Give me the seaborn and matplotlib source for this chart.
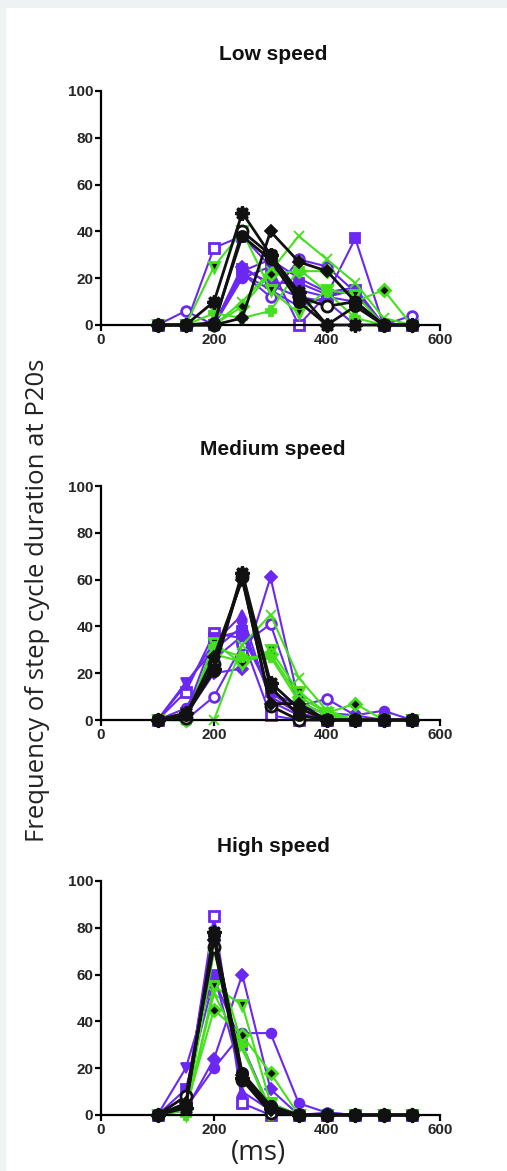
import numpy as np
import pandas as pd
import matplotlib
matplotlib.use("Agg")
import matplotlib.pyplot as plt
import seaborn as sns
from matplotlib.patches import Rectangle

sns.set_theme(style="ticks")
plt.rcParams['font.family'] = ['Liberation Sans', 'DejaVu Sans']

# ---------------- data ----------------
durations = [100, 150, 200, 250, 300, 350, 400, 450, 500, 550]
panel_titles = ["Low speed", "Medium speed", "High speed"]
x_ticks = [0, 200, 400, 600]
y_ticks = [0, 20, 40, 60, 80, 100]

series_names = ["P_open_sq", "P_sq", "P_open_circ", "P_circ", "P_tri_up", "P_tri_dn", "P_diam",
                "G_tri_dn", "G_x", "G_diam", "G_plus",
                "B_open_circ", "B_diam", "B_circ", "B_star"]
series_group = ["purple"] * 7 + ["green"] * 4 + ["black"] * 4

low_speed = {
    "P_open_sq":   [0, 0, 33, 38, 25, 0, 13, 15, 0, 0],
    "P_sq":        [0, 0, 0, 24, 18, 18, 13, 37, 0, 0],
    "P_open_circ": [0, 6, 0, 22, 12, 28, 25, 14, 0, 4],
    "P_circ":      [0, 0, 0, 20, 25, 15, 12, 15, 0, 0],
    "P_tri_up":    [0, 0, 0, 23, 28, 20, 14, 16, 0, 0],
    "P_tri_dn":    [0, 0, 0, 22, 15, 8, 12, 10, 0, 0],
    "P_diam":      [0, 0, 0, 25, 17, 12, 10, 0, 0, 0],
    "G_tri_dn":    [0, 0, 25, 40, 15, 5, 15, 13, 0, 0],
    "G_x":         [0, 0, 0, 10, 23, 38, 28, 18, 3, 0],
    "G_diam":      [0, 0, 0, 8, 22, 23, 23, 10, 15, 0],
    "G_plus":      [0, 0, 5, 3, 6, 24, 14, 3, 0, 0],
    "B_star":      [0, 0, 10, 48, 30, 14, 0, 0, 0, 0],
    "B_diam":      [0, 0, 0, 3, 40, 27, 23, 10, 0, 0],
    "B_open_circ": [0, 0, 0, 40, 30, 12, 8, 10, 0, 0],
    "B_circ":      [0, 0, 1, 38, 28, 10, 0, 8, 0, 0],
}
medium_speed = {
    "P_open_sq":   [0, 12, 37, 35, 2, 0, 0, 0, 0, 0],
    "P_sq":        [0, 3, 35, 38, 12, 3, 0, 0, 0, 0],
    "P_open_circ": [0, 0, 10, 32, 41, 6, 9, 2, 0, 0],
    "P_circ":      [0, 5, 26, 36, 12, 6, 3, 2, 4, 0],
    "P_tri_up":    [0, 15, 33, 45, 8, 2, 0, 0, 0, 0],
    "P_tri_dn":    [0, 16, 30, 40, 10, 3, 0, 0, 0, 0],
    "P_diam":      [0, 2, 20, 22, 61, 8, 2, 0, 0, 0],
    "G_tri_dn":    [0, 0, 33, 24, 30, 12, 3, 0, 0, 0],
    "G_x":         [0, 0, 0, 32, 45, 18, 4, 0, 0, 0],
    "G_diam":      [0, 0, 28, 25, 28, 10, 3, 7, 0, 0],
    "G_plus":      [0, 0, 31, 27, 27, 8, 2, 0, 0, 0],
    "B_star":      [0, 3, 22, 63, 16, 5, 0, 0, 0, 0],
    "B_diam":      [0, 2, 27, 60, 7, 7, 0, 0, 0, 0],
    "B_open_circ": [0, 1, 24, 61, 6, 0, 0, 0, 0, 0],
    "B_circ":      [0, 2, 21, 62, 14, 2, 0, 0, 0, 0],
}
high_speed = {
    "P_open_sq":   [0, 5, 85, 5, 0, 0, 0, 0, 0, 0],
    "P_sq":        [0, 11, 58, 30, 2, 0, 0, 0, 0, 0],
    "P_open_circ": [0, 3, 75, 18, 3, 0, 1, 0, 0, 0],
    "P_circ":      [0, 3, 20, 35, 35, 5, 1, 0, 0, 0],
    "P_tri_up":    [0, 8, 80, 10, 2, 0, 0, 0, 0, 0],
    "P_tri_dn":    [0, 20, 60, 15, 5, 0, 0, 0, 0, 0],
    "P_diam":      [0, 2, 24, 60, 11, 0, 0, 0, 0, 0],
    "G_tri_dn":    [0, 0, 55, 47, 5, 0, 0, 0, 0, 0],
    "G_x":         [0, 2, 52, 28, 3, 0, 0, 0, 0, 0],
    "G_diam":      [0, 3, 45, 34, 18, 0, 0, 0, 0, 0],
    "G_plus":      [0, 0, 70, 30, 0, 0, 0, 0, 0, 0],
    "B_star":      [0, 3, 78, 16, 3, 0, 0, 0, 0, 0],
    "B_diam":      [0, 5, 75, 17, 2, 0, 0, 0, 0, 0],
    "B_open_circ": [0, 8, 72, 15, 1, 0, 0, 0, 0, 0],
    "B_circ":      [0, 4, 77, 18, 4, 0, 0, 0, 0, 0],
}
panels = [low_speed, medium_speed, high_speed]

# ---------------- styles ----------------
PURPLE = "#6a28f2"
GREEN = "#44e01c"
BLACK = "#111111"
group_color = {"purple": PURPLE, "green": GREEN, "black": BLACK}
STAR8 = (8, 1, 0)
marker_style = {
    "P_open_sq":   ("s", "white"),
    "P_sq":        ("s", None),
    "P_open_circ": ("o", "white"),
    "P_circ":      ("o", None),
    "P_tri_up":    ("^", None),
    "P_tri_dn":    ("v", None),
    "P_diam":      ("D", None),
    "G_tri_dn":    ("v", BLACK),
    "G_x":         ("x", None),
    "G_diam":      ("D", BLACK),
    "G_plus":      ("P", None),
    "B_star":      (STAR8, None),
    "B_diam":      ("D", None),
    "B_open_circ": ("o", "white"),
    "B_circ":      ("o", None),
}

W, H = 507, 1171
fig = plt.figure(figsize=(W / 100, H / 100), dpi=100, facecolor="#edf2f2")
bg = Rectangle((6 / W, 0), 1 - 6 / W, 1 - 8 / H, transform=fig.transFigure,
               facecolor="white", edgecolor="none", zorder=-10)
fig.patches.append(bg)

ax_left = 101 / W
ax_w = 339 / W
ax_h = 234 / H
bottoms_px = [325, 720, 1115]
title_y_px = [55, 449, 846]

for i, data in enumerate(panels):
    ax = fig.add_axes([ax_left, 1 - bottoms_px[i] / H, ax_w, ax_h])
    ax.set_zorder(5)
    ax.set_facecolor("none")
    for name, grp in zip(series_names, series_group):
        c = group_color[grp]
        mk, fc = marker_style[name]
        df = pd.DataFrame({"x": durations, "y": data[name]})
        lw = 2.0 if grp == "black" else 1.5
        mew = 2.0 if fc else 1.3
        if mk == STAR8:
            ms, mew = 10, 2.2
        elif mk in ("x", "P"):
            ms = 7.5
        elif mk == "D":
            ms = 6.5
        elif grp == "black":
            ms = 8
        else:
            ms = 7
        sns.lineplot(data=df, x="x", y="y", ax=ax, color=c, lw=lw, marker=mk,
                     markersize=ms, markerfacecolor=fc if fc else c,
                     markeredgecolor=c, markeredgewidth=mew,
                     estimator=None, sort=False, clip_on=False, legend=False,
                     zorder=3 if grp == "black" else 2)
    ax.set_xlim(0, 600)
    ax.set_ylim(0, 100)
    ax.set_xticks(x_ticks)
    ax.set_yticks(y_ticks)
    ax.set_xlabel("")
    ax.set_ylabel("")
    sns.despine(ax=ax)
    for sp in ("left", "bottom"):
        ax.spines[sp].set_linewidth(1.6)
        ax.spines[sp].set_color("black")
    ax.tick_params(axis="both", length=4.5, width=1.6, color="black",
                   labelsize=11, pad=1)
    for lab in ax.get_xticklabels() + ax.get_yticklabels():
        lab.set_fontweight("bold")
    fig.text(273 / W, 1 - title_y_px[i] / H, panel_titles[i], ha="center", va="center",
             fontsize=15, fontweight="bold", color="#111111")

fig.text(38 / W, 1 - 600 / H, "Frequency of step cycle duration at P20s", rotation=90,
         ha="center", va="center", fontsize=18.5, color="#222222",
         family=["Open Sans", "DejaVu Sans"])
fig.text(258 / W, 1 - 1153 / H, "(ms)", ha="center", va="center", fontsize=20,
         color="#222222", family=["Open Sans", "DejaVu Sans"])

fig.savefig("out.png", dpi=100, facecolor=fig.get_facecolor())
